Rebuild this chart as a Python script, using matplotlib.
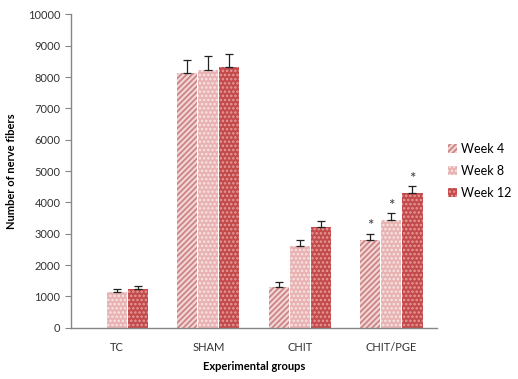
import matplotlib.pyplot as plt
import numpy as np

plt.rcParams['font.family'] = ['Lato', 'DejaVu Sans']
plt.rcParams['hatch.linewidth'] = 1.2

groups = ['TC', 'SHAM', 'CHIT', 'CHIT/PGE']
weeks = ['Week 4', 'Week 8', 'Week 12']
week4 = [0, 8130, 1310, 2800]
week8 = [1140, 8220, 2620, 3440]
week12 = [1250, 8330, 3220, 4300]
err4 = [0, 400, 150, 190]
err8 = [100, 450, 170, 210]
err12 = [100, 410, 190, 220]
signif = [False, False, False, True]

series = [week4, week8, week12]
errors = [err4, err8, err12]
faces = ['#f3d3d3', '#e8b2b2', '#c24a4a']
hatch_col = ['#c98282', '#f8e4e4', '#e79a9a']
hatches = ['//////', '....', '....']

fig = plt.figure(figsize=(5.18, 3.79), dpi=100)
ax = fig.add_axes([0.137, 0.135, 0.707, 0.827])

x = np.arange(len(groups))
w = 0.22
for i in range(3):
    pos = x + (i - 1) * (w + 0.01)
    vals = np.array(series[i])
    ax.bar(pos, vals, w, color=faces[i], edgecolor=hatch_col[i],
           hatch=hatches[i], linewidth=0, label=weeks[i])
    mask = vals > 0
    ax.errorbar(pos[mask], vals[mask], yerr=[np.zeros(mask.sum()), np.array(errors[i])[mask]],
                fmt='none', ecolor='#222222', elinewidth=0.9, capsize=3.2, capthick=0.9)
    for j in range(len(groups)):
        if signif[j]:
            ax.text(pos[j], vals[j] + errors[i][j] + 20, '*', ha='center', va='bottom',
                    fontsize=11, color='#333333')

ax.set_xlim(-0.5, 3.5)
ax.set_ylim(0, 10000)
ax.set_yticks(range(0, 10001, 1000))
ax.set_xticks(x)
ax.set_xticklabels(groups, fontsize=8, color='#333333')
ax.tick_params(axis='y', labelsize=8, colors='#333333', length=4, color='#868686', direction='out')
ax.tick_params(axis='x', length=0, pad=10)
for s in ['top', 'right']:
    ax.spines[s].set_visible(False)
for s in ['left', 'bottom']:
    ax.spines[s].set_color('#868686')
    ax.spines[s].set_linewidth(1.0)

ax.set_ylabel('Number of nerve fibers', fontsize=8, fontweight='bold', labelpad=8)
ax.set_xlabel('Experimental groups', fontsize=8, fontweight='bold', labelpad=6)

ax.legend(loc='center left', bbox_to_anchor=(1.0, 0.5), frameon=False, fontsize=9,
          handlelength=0.7, handleheight=0.7, handletextpad=0.3, labelspacing=0.8)

fig.savefig('out.png', dpi=100)
